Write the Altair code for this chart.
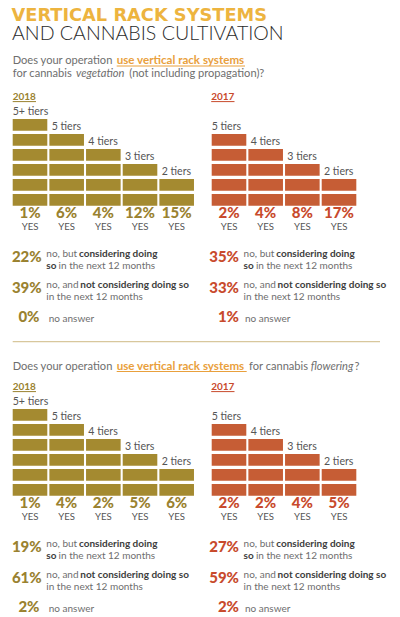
import altair as alt
import pandas as pd

# ---------------- data ----------------
tiers_2018 = ["5+ tiers", "5 tiers", "4 tiers", "3 tiers", "2 tiers"]
bricks_2018 = [6, 5, 4, 3, 2]
tiers_2017 = ["5 tiers", "4 tiers", "3 tiers", "2 tiers"]
bricks_2017 = [5, 4, 3, 2]

veg_yes_2018 = ["1%", "6%", "4%", "12%", "15%"]
veg_yes_2017 = ["2%", "4%", "8%", "17%"]
flow_yes_2018 = ["1%", "4%", "2%", "5%", "6%"]
flow_yes_2017 = ["2%", "2%", "4%", "5%"]

veg_no_2018 = ["22%", "39%", "0%"]
veg_no_2017 = ["35%", "33%", "1%"]
flow_no_2018 = ["19%", "61%", "2%"]
flow_no_2017 = ["27%", "59%", "2%"]

years = ["2018", "2017"]

# ---------------- style ----------------
GOLD_TITLE = "#EDB43F"
HILITE = "#E9A03C"
C2018 = "#A48A30"
C2017 = "#C65D35"
T2018 = "#9A8230"
T2017 = "#C84A2C"
GRAY = "#6e6e6e"
DARK = "#3d3d3d"
FONT = "Lato"

PITCH = 36.67
BW = 34.6
BH = 11.7
ROWP = 15.0
BLOCK_DY = 290.0

texts = []
rects = []
rules = []


def add(x, y, t, size=10, weight=400, style="normal", align="left", c=GRAY,
        font=FONT):
    texts.append(dict(x=x, y=y, t=t, size=size, weight=weight, style=style,
                      align=align, c=c, font=font))


def rule(x, x2, y, c, w=1.0):
    rules.append(dict(x=x, x2=x2, y=y, c=c, w=w))


# title
add(11.5, 21.4, "VERTICAL RACK SYSTEMS", size=17.8, weight=700, c=GOLD_TITLE,
    font="DejaVu Sans")
add(12, 40.4, "AND CANNABIS CULTIVATION", size=19.6, weight=300, c="#2b2b2b")

# question 1
QS = 11.1
QB = 11.6
add(12.7, 64, "Does your operation", size=QS, c=GRAY)
add(116.7, 64, "use vertical rack systems", size=QB, weight=700, c=HILITE)
rule(116.7, 245, 66, HILITE)
add(12.7, 76.5, "for cannabis", size=QS, c=GRAY)
add(76, 76.5, "vegetation", size=QS, style="italic", c=GRAY)
add(129.3, 76.5, "(not including propagation)?", size=QS, c=GRAY)

# divider
rule(12.7, 380, 341.7, "#D8C79C", 1.2)

# question 2
q2y = 369.5
add(12.7, q2y, "Does your operation", size=QS, c=GRAY)
add(116.7, q2y, "use vertical rack systems", size=QB, weight=700, c=HILITE)
rule(116.7, 246.7, q2y + 2, HILITE)
add(249, q2y, "for cannabis", size=QS, c=GRAY)
add(310.7, q2y, "flowering", size=QS, style="italic", c=GRAY)
add(354.5, q2y, "?", size=QS, c=GRAY)

BS = 10


def block(dy, yes18, yes17, no18, no17):
    for yi, (yr, x0, tiers, bricks, yes, no, cb, ct, pr) in enumerate([
        ("2018", 12.7, tiers_2018, bricks_2018, yes18, no18, C2018, T2018, 41.7),
        ("2017", 211.2, tiers_2017, bricks_2017, yes17, no17, C2017, T2017, 239.0),
    ]):
        # year label
        add(x0, 99.5 + dy, yr, size=10, weight=700, c=ct)
        rule(x0, x0 + 23.3, 101.6 + dy, ct)
        xb0 = 12.7 if yr == "2018" else 211.7
        bottom = 205.7 + dy
        for j, (lab, n, pct) in enumerate(zip(tiers, bricks, yes)):
            cx0 = xb0 + j * PITCH
            for i in range(n):
                y2 = bottom - i * ROWP
                rects.append(dict(x=cx0, x2=cx0 + BW, y=y2 - BH, y2=y2, c=cb))
            top = bottom - (n - 1) * ROWP - BH
            add(cx0 + (0 if j == 0 else 2.3), top - 4.0, lab, size=10.6, c="#555555")
            add(cx0 + BW / 2, bottom + 12.5, pct, size=15, weight=900,
                align="center", c=ct)
            add(cx0 + BW / 2, bottom + 24.5, "YES", size=9.6, align="center",
                c="#555555")
        tx = pr + 4.6
        # row A
        add(pr, 262 + dy, no[0], size=15, weight=900, align="right", c=ct)
        add(tx, 257 + dy, "no, but", size=BS, c=GRAY)
        add(tx + 32.6, 257 + dy, "considering doing", size=BS, weight=700, c=DARK)
        add(tx, 269 + dy, "so", size=BS, weight=700, c=DARK)
        add(tx + 12.3, 269 + dy, "in the next 12 months", size=BS, c=GRAY)
        # row B
        add(pr, 293 + dy, no[1], size=15, weight=900, align="right", c=ct)
        add(tx, 288 + dy, "no, and", size=BS, c=GRAY)
        add(tx + 34, 288 + dy, "not considering doing so", size=BS, weight=700, c=DARK)
        add(tx, 300 + dy, "in the next 12 months", size=BS, c=GRAY)
        # row C
        pc = pr - 2.2 if yr == "2018" else pr
        add(pc, 322 + dy, no[2], size=15, weight=900, align="right", c=ct)
        add(pr + (7 if yr == "2018" else 6), 322 + dy, "no answer", size=BS, c=GRAY)


block(0, veg_yes_2018, veg_yes_2017, veg_no_2018, veg_no_2017)
block(BLOCK_DY, flow_yes_2018, flow_yes_2017, flow_no_2018, flow_no_2017)

# ---------------- chart ----------------
X = alt.Scale(domain=[8, 392], nice=False, zero=False)
Yc = alt.Scale(domain=[8, 617], nice=False, zero=False, reverse=True)

rect_df = pd.DataFrame(rects)
rule_df = pd.DataFrame(rules)
text_df = pd.DataFrame(texts)

layers = []
layers.append(
    alt.Chart(rect_df).mark_rect().encode(
        x=alt.X("x:Q", scale=X, axis=None),
        x2="x2:Q",
        y=alt.Y("y:Q", scale=Yc, axis=None),
        y2="y2:Q",
        color=alt.Color("c:N", scale=None),
    )
)
for w, g in rule_df.groupby("w"):
    layers.append(
        alt.Chart(g).mark_rule(strokeWidth=float(w)).encode(
            x=alt.X("x:Q", scale=X, axis=None),
            x2="x2:Q",
            y=alt.Y("y:Q", scale=Yc, axis=None),
            color=alt.Color("c:N", scale=None),
        )
    )
for (font, size, weight, style, align), g in text_df.groupby(
        ["font", "size", "weight", "style", "align"]):
    layers.append(
        alt.Chart(g).mark_text(
            font=font, fontSize=float(size), fontWeight=int(weight),
            fontStyle=style, align=align, baseline="alphabetic",
        ).encode(
            x=alt.X("x:Q", scale=X, axis=None),
            y=alt.Y("y:Q", scale=Yc, axis=None),
            text="t:N",
            color=alt.Color("c:N", scale=None),
        )
    )

chart = alt.layer(*layers).properties(
    width=384, height=609, padding=0, autosize="none",
    background="white",
).configure_view(stroke=None)

chart.save("out.html", embed_options={"renderer": "svg", "actions": False})
